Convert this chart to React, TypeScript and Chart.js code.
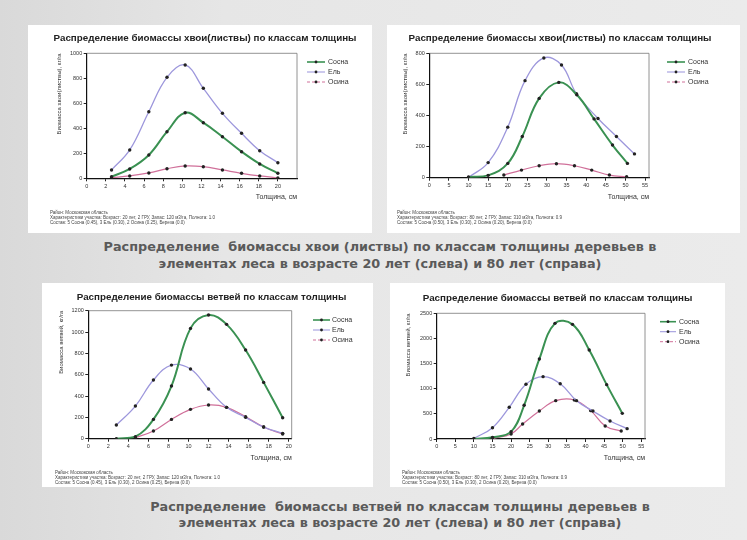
import React, { useEffect, useRef } from "react";
import { Chart, registerables } from "chart.js";
Chart.register(...registerables);

// ---------------- DATA ----------------
const seriesLabels = ["Сосна", "Ель", "Осина"];

// Хвоя (листва), 20 лет
const needles20X = [2.6, 4.5, 6.5, 8.4, 10.3, 12.2, 14.2, 16.2, 18.1, 20];
const needles20Pine = [13, 75, 187, 373, 525, 445, 333, 213, 115, 40];
const needles20Spruce = [67, 227, 533, 808, 907, 720, 520, 360, 221, 125];
const needles20Aspen = [5, 19, 43, 77, 99, 93, 67, 40, 19, 3];

// Хвоя (листва), 80 лет
const needles80PineX = [10, 15, 20, 23.7, 28, 33, 37.6, 42, 46.7, 50.5];
const needles80Pine = [5, 15, 92, 265, 510, 613, 533, 378, 210, 92];
const needles80SpruceX = [10, 15, 20, 24.4, 29.2, 33.7, 37.5, 43, 47.7, 52.3];
const needles80Spruce = [2, 97, 325, 624, 770, 725, 540, 381, 265, 153];
const needles80AspenX = [19, 23.5, 28, 32.4, 37, 41.4, 45.9, 50.3];
const needles80Aspen = [17, 49, 77, 90, 77, 49, 17, 6];

// Ветви, 20 лет
const branches20X = [2.8, 4.7, 6.5, 8.3, 10.2, 12, 13.8, 15.7, 17.5, 19.4];
const branches20Pine = [0, 19, 181, 494, 1034, 1159, 1072, 831, 528, 197];
const branches20Spruce = [128, 306, 550, 690, 653, 466, 294, 200, 109, 50];
const branches20AspenX = [4.7, 6.5, 8.3, 10.2, 12, 13.8, 15.7, 17.5, 19.4];
const branches20Aspen = [10, 72, 181, 275, 316, 294, 206, 109, 44];

// Ветви, 80 лет
const branches80PineX = [10, 15, 20, 23.5, 27.6, 31.8, 36.5, 41, 45.7, 49.9];
const branches80Pine = [0, 33, 146, 670, 1592, 2300, 2280, 1770, 1081, 510];
const branches80SpruceX = [10, 15, 19.5, 24, 28.6, 33.2, 37.6, 42, 46.6, 51.2];
const branches80Spruce = [13, 225, 630, 1088, 1240, 1100, 763, 557, 358, 206];
const branches80AspenX = [15, 20, 23.1, 27.6, 32, 37, 41.4, 45.3, 49.6];
const branches80Aspen = [7, 100, 298, 557, 763, 776, 564, 259, 159];

// Tick values
const xTicks20 = [0, 2, 4, 6, 8, 10, 12, 14, 16, 18, 20];
const xTicks55 = [0, 5, 10, 15, 20, 25, 30, 35, 40, 45, 50, 55];
const yTicksNeedles20 = [0, 200, 400, 600, 800, 1000];
const yTicksNeedles80 = [0, 200, 400, 600, 800];
const yTicksBranches20 = [0, 200, 400, 600, 800, 1000, 1200];
const yTicksBranches80 = [0, 500, 1000, 1500, 2000, 2500];

// Texts
const titleNeedles = "Распределение биомассы хвои(листвы) по классам толщины";
const titleBranches = "Распределение биомассы ветвей по классам толщины";
const yTitleNeedles = "Биомасса хвои(листвы), кг/га";
const yTitleBranches = "Биомасса ветвей, кг/га";
const xTitleText = "Толщина, см";
const foot20 = [
  "Район: Московская область",
  "Характеристики участка: Возраст: 20 лет, 2 ГРУ, Запас: 120 м3/га, Полнота: 1.0",
  "Состав: 5 Сосна (0.45), 3 Ель (0.30), 2 Осина (0.25), Береза (0.0)",
];
const foot80 = [
  "Район: Московская область",
  "Характеристики участка: Возраст: 80 лет, 2 ГРУ, Запас: 310 м3/га, Полнота: 0.9",
  "Состав: 5 Сосна (0.50), 3 Ель (0.30), 2 Осина (0.20), Береза (0.0)",
];
const caption1 = [
  "Распределение  биомассы хвои (листвы) по классам толщины деревьев в",
  "элементах леса в возрасте 20 лет (слева) и 80 лет (справа)",
];
const caption2 = [
  "Распределение  биомассы ветвей по классам толщины деревьев в",
  "элементах леса в возрасте 20 лет (слева) и 80 лет (справа)",
];

// ---------------- STYLES ----------------
const FONT = "'Liberation Sans', Arial, sans-serif";
const CAPTION_FONT = "'DejaVu Sans', Verdana, sans-serif";
const seriesStyles = [
  { color: "#3a9152", width: 2, dash: [] as number[] },
  { color: "#9d97dc", width: 1.3, dash: [] as number[] },
  { color: "#d0709a", width: 1.2, dash: [3, 2] },
];

type Series = { x: number[]; y: number[] };
type Spec = {
  panel: { left: number; top: number; width: number; height: number };
  area: { l: number; t: number; r: number; b: number };
  xMax: number;
  yMax: number;
  xTicks: number[];
  yTicks: number[];
  series: Series[];
  title: string;
  titleX: number;
  titleY: number;
  yTitle: string;
  yTitleX: number;
  xTitleY: number;
  legend: { x0: number; x1: number; textX: number; ys: number[] };
  foot: string[];
  footX: number;
  footY: number[];
};

const specs: Spec[] = [
  {
    panel: { left: 28, top: 25, width: 344, height: 208 },
    area: { l: 86.7, t: 53.3, r: 297, b: 178.3 },
    xMax: 22,
    yMax: 1000,
    xTicks: xTicks20,
    yTicks: yTicksNeedles20,
    series: [
      { x: needles20X, y: needles20Pine },
      { x: needles20X, y: needles20Spruce },
      { x: needles20X, y: needles20Aspen },
    ],
    title: titleNeedles,
    titleX: 205,
    titleY: 38,
    yTitle: yTitleNeedles,
    yTitleX: 59,
    xTitleY: 197,
    legend: { x0: 307, x1: 325, textX: 328, ys: [62, 72, 82] },
    foot: foot20,
    footX: 50,
    footY: [212, 217, 222],
  },
  {
    panel: { left: 387, top: 25, width: 353, height: 208 },
    area: { l: 429.3, t: 53.3, r: 649, b: 177.7 },
    xMax: 56,
    yMax: 800,
    xTicks: xTicks55,
    yTicks: yTicksNeedles80,
    series: [
      { x: needles80PineX, y: needles80Pine },
      { x: needles80SpruceX, y: needles80Spruce },
      { x: needles80AspenX, y: needles80Aspen },
    ],
    title: titleNeedles,
    titleX: 560,
    titleY: 38,
    yTitle: yTitleNeedles,
    yTitleX: 405,
    xTitleY: 197,
    legend: { x0: 667, x1: 685, textX: 688, ys: [62, 72, 82] },
    foot: foot80,
    footX: 397,
    footY: [212, 217, 222],
  },
  {
    panel: { left: 42, top: 283, width: 331, height: 204 },
    area: { l: 88.3, t: 310.7, r: 291.7, b: 438.7 },
    xMax: 20.3,
    yMax: 1200,
    xTicks: xTicks20,
    yTicks: yTicksBranches20,
    series: [
      { x: branches20X, y: branches20Pine },
      { x: branches20X, y: branches20Spruce },
      { x: branches20AspenX, y: branches20Aspen },
    ],
    title: titleBranches,
    titleX: 211.5,
    titleY: 297,
    yTitle: yTitleBranches,
    yTitleX: 61.7,
    xTitleY: 458,
    legend: { x0: 313, x1: 330, textX: 332, ys: [320, 330, 340] },
    foot: foot20,
    footX: 55,
    footY: [472, 477, 482],
  },
  {
    panel: { left: 390, top: 283, width: 335, height: 204 },
    area: { l: 436.7, t: 313.3, r: 645, b: 439 },
    xMax: 56,
    yMax: 2500,
    xTicks: xTicks55,
    yTicks: yTicksBranches80,
    series: [
      { x: branches80PineX, y: branches80Pine },
      { x: branches80SpruceX, y: branches80Spruce },
      { x: branches80AspenX, y: branches80Aspen },
    ],
    title: titleBranches,
    titleX: 557.5,
    titleY: 298,
    yTitle: yTitleBranches,
    yTitleX: 408.3,
    xTitleY: 458,
    legend: { x0: 660, x1: 676, textX: 679, ys: [321.7, 331.7, 341.7] },
    foot: foot80,
    footX: 402,
    footY: [472, 477, 482],
  },
];

const framePlugin = {
  id: "frame",
  beforeDatasetsDraw(chart: any) {
    const { ctx, chartArea: c } = chart;
    ctx.save();
    ctx.strokeStyle = "#777";
    ctx.lineWidth = 0.8;
    ctx.beginPath();
    ctx.moveTo(c.left, c.top);
    ctx.lineTo(c.right, c.top);
    ctx.lineTo(c.right, c.bottom);
    ctx.stroke();
    ctx.restore();
  },
};

function makeLegendPlugin(spec: Spec) {
  return {
    id: "sideLegend",
    afterDraw(chart: any) {
      const ctx = chart.ctx as CanvasRenderingContext2D;
      const { left, top } = spec.panel;
      ctx.save();
      chart.data.datasets.forEach((ds: any, i: number) => {
        const st = seriesStyles[i];
        const y = spec.legend.ys[i] - top;
        const x0 = spec.legend.x0 - left;
        const x1 = spec.legend.x1 - left;
        ctx.strokeStyle = st.color;
        ctx.lineWidth = Math.max(1, st.width * 0.8);
        ctx.setLineDash(st.dash);
        ctx.beginPath();
        ctx.moveTo(x0, y);
        ctx.lineTo(x1, y);
        ctx.stroke();
        ctx.setLineDash([]);
        ctx.fillStyle = "#222";
        ctx.beginPath();
        ctx.arc((x0 + x1) / 2, y, 1.4, 0, Math.PI * 2);
        ctx.fill();
        ctx.fillStyle = "#333";
        ctx.font = `7px ${FONT}`;
        ctx.textBaseline = "middle";
        ctx.textAlign = "left";
        ctx.fillText(ds.label, spec.legend.textX - left, y);
      });
      ctx.restore();
    },
  };
}

function ChartPanel({ spec }: { spec: Spec }) {
  const ref = useRef<HTMLCanvasElement>(null);
  useEffect(() => {
    const p = spec.panel;
    const a = {
      l: spec.area.l - p.left,
      t: spec.area.t - p.top,
      r: spec.area.r - p.left,
      b: spec.area.b - p.top,
    };
    const xTitleSize = 7;
    const yTitleSize = 6;
    const xScaleBottom = spec.xTitleY - p.top + (xTitleSize * 1.2) / 2;
    const tickFont = { size: 5.5, family: FONT };
    const chart = new Chart(ref.current as HTMLCanvasElement, {
      type: "line",
      data: {
        datasets: spec.series.map((s, i) => ({
          label: seriesLabels[i],
          data: s.x.map((x, j) => ({ x, y: s.y[j] })),
          borderColor: seriesStyles[i].color,
          backgroundColor: seriesStyles[i].color,
          borderWidth: seriesStyles[i].width,
          pointRadius: 1.7,
          pointBackgroundColor: "#222",
          pointBorderWidth: 0,
          tension: 0.4,
          fill: false,
        })),
      },
      options: {
        animation: false,
        responsive: false,
        devicePixelRatio: 1,
        layout: {
          padding: {
            left: 0,
            top: a.t,
            right: p.width - a.r,
            bottom: p.height - xScaleBottom,
          },
        },
        plugins: {
          legend: { display: false },
          tooltip: { enabled: false },
          title: { display: false },
        },
        scales: {
          x: {
            type: "linear",
            min: 0,
            max: spec.xMax,
            afterBuildTicks: (s: any) => {
              s.ticks = spec.xTicks.map((v) => ({ value: v }));
            },
            afterFit: (s: any) => {
              s.height = xScaleBottom - a.b;
            },
            ticks: {
              font: tickFont,
              color: "#333",
              padding: 1.5,
              autoSkip: false,
              maxRotation: 0,
              callback: (v: any) => String(v),
            },
            grid: { display: true, drawOnChartArea: false, drawTicks: true, tickLength: 3, color: "#222" },
            border: { display: true, color: "#111", width: 1.2 },
            title: {
              display: true,
              text: xTitleText,
              align: "end",
              color: "#333",
              font: { size: xTitleSize, family: FONT },
              padding: 0,
            },
          },
          y: {
            type: "linear",
            min: 0,
            max: spec.yMax,
            afterBuildTicks: (s: any) => {
              s.ticks = spec.yTicks.map((v) => ({ value: v }));
            },
            afterFit: (s: any) => {
              s.width = a.l;
            },
            ticks: {
              font: tickFont,
              color: "#333",
              padding: 1.5,
              autoSkip: false,
              callback: (v: any) => String(v),
            },
            grid: { display: true, drawOnChartArea: false, drawTicks: true, tickLength: 3, color: "#222" },
            border: { display: true, color: "#111", width: 1.2 },
            title: {
              display: true,
              text: spec.yTitle,
              align: "end",
              color: "#333",
              font: { size: yTitleSize, family: FONT },
              padding: { top: spec.yTitleX - p.left - (yTitleSize * 1.2) / 2, bottom: 0 },
            },
          },
        },
      },
      plugins: [framePlugin, makeLegendPlugin(spec)],
    } as any);
    return () => chart.destroy();
  }, [spec]);

  const p = spec.panel;
  return (
    <>
      <div
        style={{
          position: "absolute",
          left: p.left,
          top: p.top,
          width: p.width,
          height: p.height,
          background: "#fff",
        }}
      >
        <canvas ref={ref} width={p.width} height={p.height} style={{ display: "block", width: p.width, height: p.height }} />
      </div>
      <div
        style={{
          position: "absolute",
          left: spec.titleX - 200,
          width: 400,
          top: spec.titleY - 6,
          height: 12,
          lineHeight: "12px",
          textAlign: "center",
          fontFamily: FONT,
          fontWeight: "bold",
          fontSize: 9.8,
          color: "#222",
          whiteSpace: "nowrap",
        }}
      >
        {spec.title}
      </div>
      {spec.foot.map((line, i) => (
        <div
          key={i}
          style={{
            position: "absolute",
            left: spec.footX,
            top: spec.footY[i] - 2.5,
            height: 5,
            lineHeight: "5px",
            fontFamily: FONT,
            fontSize: 4.5,
            color: "#444",
            whiteSpace: "nowrap",
          }}
        >
          {line}
        </div>
      ))}
    </>
  );
}

function Caption({ lines, cx, cy }: { lines: string[]; cx: number; cy: number[] }) {
  return (
    <>
      {lines.map((l, i) => (
        <div
          key={i}
          style={{
            position: "absolute",
            left: cx - 350,
            width: 700,
            top: cy[i] - 8,
            height: 16,
            lineHeight: "16px",
            textAlign: "center",
            fontFamily: CAPTION_FONT,
            fontWeight: "bold",
            fontSize: 12.8,
            color: "#5a5a5a",
            whiteSpace: "pre",
          }}
        >
          {l}
        </div>
      ))}
    </>
  );
}

export default function App() {
  return (
    <div
      style={{
        position: "absolute",
        left: 0,
        top: 0,
        width: 747,
        height: 540,
        overflow: "hidden",
        background: "linear-gradient(90deg, #d9d9d9 0%, #e6e6e6 30%, #ebebeb 100%)",
      }}
    >
      {specs.map((s, i) => (
        <ChartPanel key={i} spec={s} />
      ))}
      <Caption lines={caption1} cx={380} cy={[247, 264]} />
      <Caption lines={caption2} cx={400} cy={[507, 523]} />
    </div>
  );
}
